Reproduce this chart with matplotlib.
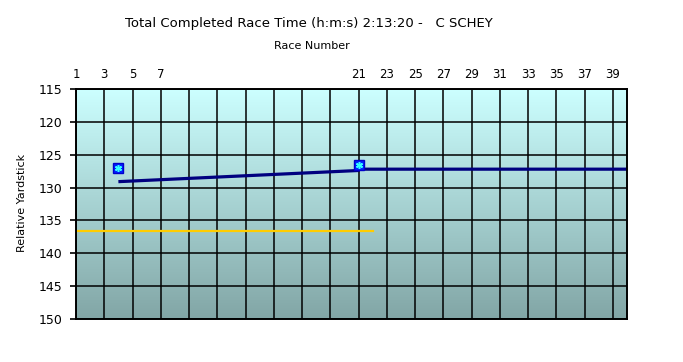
import numpy as np
import matplotlib.pyplot as plt

# data
races = list(range(1, 41))
tick_races = [1, 3, 5, 7, 9, 11, 13, 15, 17, 19, 21, 23, 25, 27, 29, 31, 33, 35, 37, 39]
tick_labels = ['1', '3', '5', '7', '', '', '', '', '', '', '21', '23', '25', '27', '29', '31', '33', '35', '37', '39']

result_x = [4, 21]
result_y = [127.0, 126.6]

trend_x = [4, 21, 21, 40]
trend_y = [129.1, 127.4, 127.2, 127.2]

standard_x = [1, 22]
standard_y = [136.6, 136.6]

fig = plt.figure(figsize=(6.83, 3.62), dpi=100)
fig.patch.set_facecolor('white')
ax = fig.add_axes([76 / 683, 1 - 319 / 362, 551 / 683, 230 / 362])

# gradient background
grad = np.linspace(0, 1, 256).reshape(-1, 1)
top = np.array([0.80, 1.00, 1.00])
bot = np.array([0.51, 0.65, 0.65])
img = top + (bot - top) * grad[:, :, None]
ax.imshow(img, extent=[1, 40, 150, 115], aspect='auto', zorder=0)

ax.set_xlim(1, 40)
ax.set_ylim(150, 115)
ax.set_yticks(range(115, 151, 5))
ax.set_xticks(tick_races)
ax.set_xticklabels(tick_labels)
ax.xaxis.tick_top()
ax.xaxis.set_label_position('top')
ax.grid(True, color='black', linewidth=1.1, zorder=1)
ax.set_axisbelow(False)
for s in ax.spines.values():
    s.set_linewidth(1.4)
    s.set_zorder(5)
ax.tick_params(axis='both', labelsize=8.5, length=4, width=1.2, colors='black')
ax.tick_params(axis='y', labelsize=9, pad=6)
ax.tick_params(axis='x', length=0, pad=6)

ax.plot(standard_x, standard_y, color='#FFCC00', linewidth=1.6, zorder=3)
ax.plot(trend_x, trend_y, color='#000080', linewidth=2.3, zorder=3, solid_capstyle='butt')
ax.plot(result_x, result_y, linestyle='none', marker='s', markersize=7.5,
        markerfacecolor='#0022FF', markeredgecolor='#0000CC', zorder=4)
ax.plot(result_x, result_y, linestyle='none', marker=(6, 2, 0), markersize=5,
        markeredgecolor='#33FFFF', markeredgewidth=1.1, zorder=5)

fig.text(309 / 683, 1 - 23 / 362, 'Total Completed Race Time (h:m:s) 2:13:20 -   C SCHEY',
         ha='center', va='center', fontsize=9.5)
fig.text(312 / 683, 1 - 46 / 362, 'Race Number', ha='center', va='center', fontsize=8)
fig.text(22 / 683, 1 - 203 / 362, 'Relative Yardstick', ha='center', va='center',
         rotation=90, fontsize=8)

fig.savefig('out.png', dpi=100)
